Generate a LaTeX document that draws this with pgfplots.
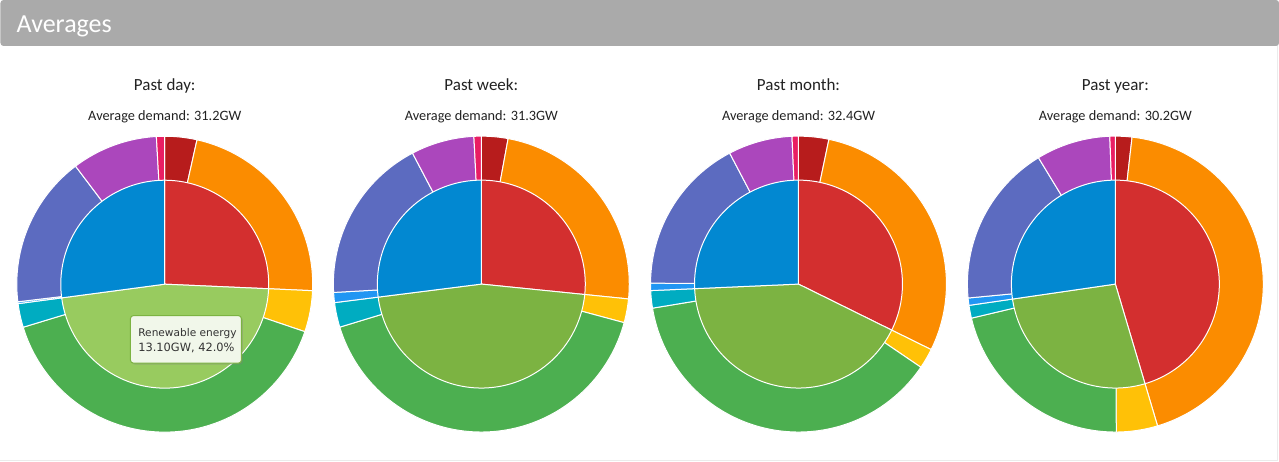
\documentclass[border=0pt]{standalone}
\usepackage{pgfplots}
\pgfplotsset{compat=1.18}
\usepackage{fontspec}
\setmainfont{Carlito}
\newfontfamily\tipfont{DejaVu Sans}
\usetikzlibrary{shadows}
\definecolor{cCoal}{HTML}{B71C1C}
\definecolor{cGas}{HTML}{FB8C00}
\definecolor{cBio}{HTML}{FFC107}
\definecolor{cWind}{HTML}{4CAF50}
\definecolor{cHydro}{HTML}{00ACC1}
\definecolor{cSolar}{HTML}{2196F3}
\definecolor{cNuc}{HTML}{5C6BC0}
\definecolor{cImp}{HTML}{AB47BC}
\definecolor{cPump}{HTML}{E91E63}
\definecolor{cFossil}{HTML}{D32F2F}
\definecolor{cRenew}{HTML}{7CB342}
\definecolor{cRenewH}{HTML}{98CB5F}
\definecolor{cLowC}{HTML}{0288D1}
\definecolor{headgray}{HTML}{AAAAAA}
\definecolor{tipfill}{HTML}{F1F7EA}
\definecolor{txt}{HTML}{222222}

% #1 cx, #2 cy, #3 radius, #4 list value/colour (values in percent)
\newcommand\ring[4]{%
  \gdef\cum{0}%
  \foreach \v/\c in {#4} {%
    \pgfmathsetmacro\a{\cum}%
    \pgfmathsetmacro\b{\cum+3.6*\v}%
    \edef\tmp{\noexpand\addplot[fill=\c, draw=white, line width=1pt, line join=round, mark=none, domain=\a:\b, samples=90] ({#1+#3*sin(x)},{#2-#3*cos(x)}) -- (axis cs:#1,#2) -- cycle;}%
    \tmp
    \xdef\cum{\b}%
  }%
}

\begin{document}
\begin{tikzpicture}
\fill[white] (0,0) rectangle (1279pt,462pt);
\draw[black!8, line width=1pt] (1277.5pt,1.5pt) -- (1277.5pt,440pt);
\draw[black!8, line width=1pt] (0pt,1.5pt) -- (1277.5pt,1.5pt);
\fill[headgray, rounded corners=3pt] (0,416pt) rectangle (1279pt,462pt);
\node[anchor=base west, white, inner sep=0pt, font=\fontsize{26}{28}\selectfont] at (16pt,429pt) {Averages};
\begin{axis}[at={(0,0)}, anchor=south west, scale only axis, width=1279pt, height=462pt,
  xmin=0, xmax=1279, ymin=0, ymax=462, y dir=reverse, hide axis, clip=false]
% Past day
\ring{164.3}{284.3}{148}{3.5/cCoal, 22.2/cGas, 4.5/cBio, 40.1/cWind, 2.6/cHydro, 0.2/cSolar, 16.6/cNuc, 9.4/cImp, 0.9/cPump}
\ring{164.3}{284.3}{104}{25.7/cFossil, 47.2/cRenewH, 27.1/cLowC}
% Past week
\ring{481}{284.2}{148}{2.9/cCoal, 23.7/cGas, 2.6/cBio, 41.1/cWind, 2.7/cHydro, 1.1/cSolar, 18.2/cNuc, 6.9/cImp, 0.8/cPump}
\ring{481}{284.2}{104}{26.6/cFossil, 46.4/cRenew, 27.0/cLowC}
% Past month
\ring{798.3}{284.2}{148}{3.3/cCoal, 29.0/cGas, 2.2/cBio, 37.9/cWind, 1.9/cHydro, 0.8/cSolar, 17.2/cNuc, 7.0/cImp, 0.7/cPump}
\ring{798.3}{284.2}{104}{32.3/cFossil, 42.0/cRenew, 25.7/cLowC}
% Past year
\ring{1115.3}{284.2}{148}{1.8/cCoal, 43.6/cGas, 4.5/cBio, 21.4/cWind, 1.4/cHydro, 0.8/cSolar, 17.8/cNuc, 8.1/cImp, 0.6/cPump}
\ring{1115.3}{284.2}{104}{45.4/cFossil, 27.3/cRenew, 27.3/cLowC}

\node[anchor=base, txt, inner sep=0pt, font=\fontsize{17}{19}\selectfont] at (axis cs:164.3,90.7) {Past day:};
\node[anchor=base, txt, inner sep=0pt, font=\fontsize{17}{19}\selectfont] at (axis cs:481,90.7) {Past week:};
\node[anchor=base, txt, inner sep=0pt, font=\fontsize{17}{19}\selectfont] at (axis cs:798.3,90.7) {Past month:};
\node[anchor=base, txt, inner sep=0pt, font=\fontsize{17}{19}\selectfont] at (axis cs:1115.3,90.7) {Past year:};
\node[anchor=base, txt, inner sep=0pt, font=\fontsize{14.3}{16}\selectfont] at (axis cs:164.3,120.7) {Average demand: 31.2GW};
\node[anchor=base, txt, inner sep=0pt, font=\fontsize{14.3}{16}\selectfont] at (axis cs:481,120.7) {Average demand: 31.3GW};
\node[anchor=base, txt, inner sep=0pt, font=\fontsize{14.3}{16}\selectfont] at (axis cs:798.3,120.7) {Average demand: 32.4GW};
\node[anchor=base, txt, inner sep=0pt, font=\fontsize{14.3}{16}\selectfont] at (axis cs:1115.3,120.7) {Average demand: 30.2GW};

% tooltip
\draw[cRenew, fill=tipfill, line width=1pt, rounded corners=3pt,
  drop shadow={opacity=0.35, shadow xshift=1.5pt, shadow yshift=-1.5pt}]
  (axis cs:130,315.7) rectangle (axis cs:241,363.3);
\node[anchor=base west, inner sep=0pt, text=black!80, font=\tipfont\fontsize{10.6}{12}\selectfont] at (axis cs:137.7,336.5) {Renewable energy};
\node[anchor=base west, inner sep=0pt, text=black!80, font=\tipfont\fontsize{11.4}{14}\selectfont] at (axis cs:137.7,351.7) {13.10GW, 42.0\%};
\end{axis}
\end{tikzpicture}
\end{document}
